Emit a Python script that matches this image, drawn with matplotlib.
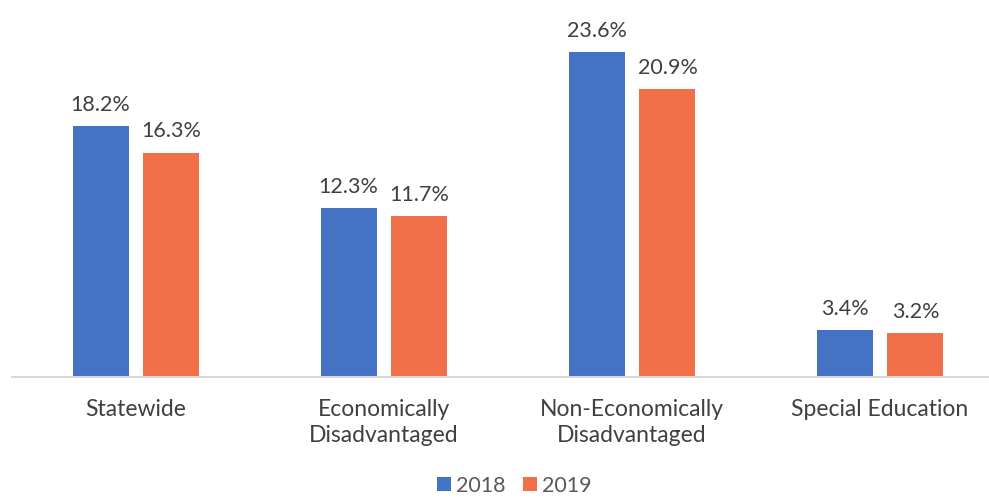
import matplotlib.pyplot as plt
import numpy as np

plt.rcParams['font.family'] = ['Lato', 'DejaVu Sans']

categories = ['Statewide', 'Economically\nDisadvantaged',
              'Non-Economically\nDisadvantaged', 'Special Education']
vals_2018 = [18.2, 12.3, 23.6, 3.4]
vals_2019 = [16.3, 11.7, 20.9, 3.2]
series_names = ['2018', '2019']
colors = ['#4472C4', '#F07149']

fig = plt.figure(figsize=(9.89, 4.99), dpi=100)
ax = fig.add_axes([12 / 989, 122 / 499, 977 / 989, 377 / 499])

x = np.arange(len(categories))
w = 0.226
off = 0.143
b1 = ax.bar(x - off, vals_2018, w, color=colors[0], label=series_names[0])
b2 = ax.bar(x + off, vals_2019, w, color=colors[1], label=series_names[1])

for bars in (b1, b2):
    for b in bars:
        ax.annotate(f'{b.get_height():.1f}%', (b.get_x() + b.get_width() / 2, b.get_height()),
                    xytext=(0, 8), textcoords='offset points', ha='center', va='bottom',
                    fontsize=15.5, color='#404040')

ax.set_xlim(-0.5, -0.5 + 977 / 248)
ax.set_ylim(0, 377 / 13.77)
ax.set_xticks(x)
ax.set_xticklabels(categories, fontsize=16.5, color='#404040', linespacing=1.3)
ax.tick_params(axis='x', length=0, pad=16)
ax.set_yticks([])
for s in ['top', 'right', 'left']:
    ax.spines[s].set_visible(False)
ax.spines['bottom'].set_color('#d9d9d9')
ax.spines['bottom'].set_linewidth(1.5)

fig.legend(loc='lower center', bbox_to_anchor=(0.52, -0.032), ncol=2, frameon=False,
           fontsize=15.5, handlelength=0.65, handleheight=0.65, handletextpad=0.25,
           columnspacing=0.8, labelcolor='#595959')

fig.savefig('out.png', dpi=100)
